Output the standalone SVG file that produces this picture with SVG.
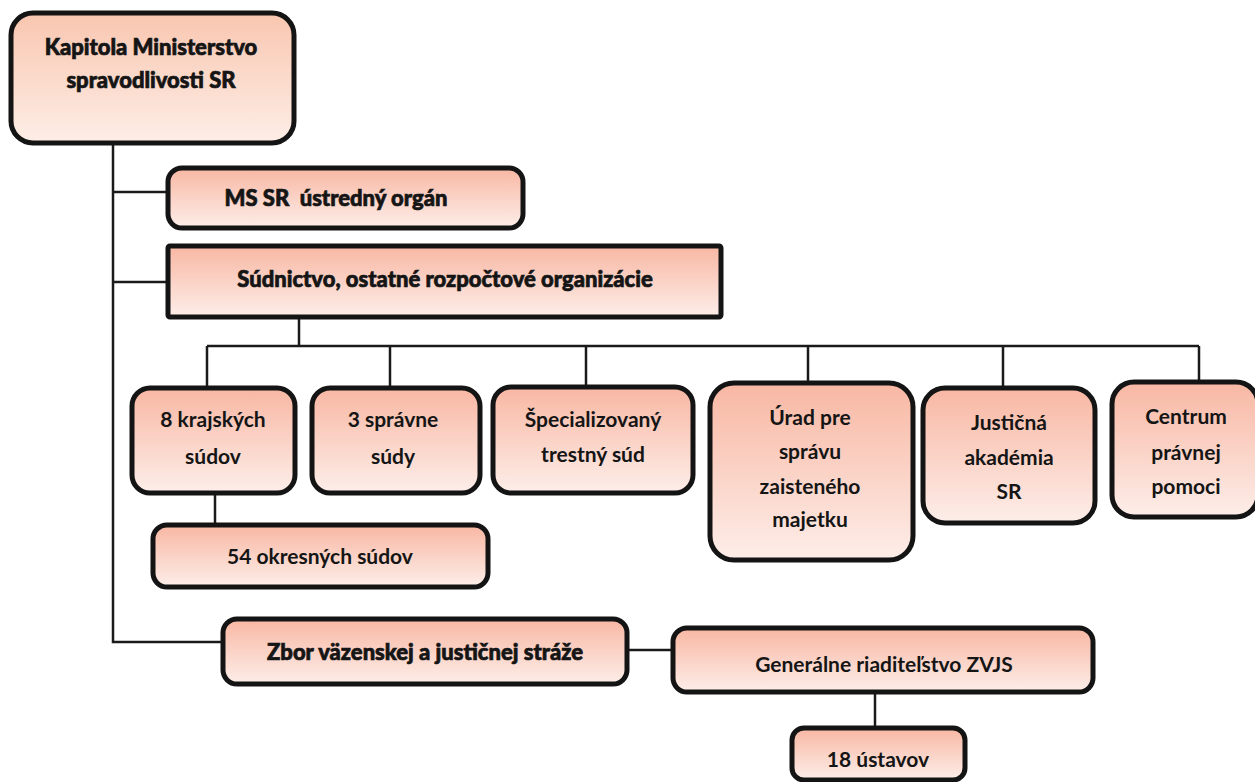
<svg xmlns="http://www.w3.org/2000/svg" width="1255" height="782" viewBox="0 0 1255 782">
<defs>
<linearGradient id="g" x1="0" y1="0" x2="0" y2="1">
<stop offset="0" stop-color="#f8b7a3"/>
<stop offset="1" stop-color="#fdeee9"/>
</linearGradient>
<linearGradient id="g2" x1="0" y1="0" x2="0" y2="1">
<stop offset="0" stop-color="#f9c6b0"/>
<stop offset="1" stop-color="#fdeee6"/>
</linearGradient>
<style>
.b{fill:url(#g);stroke:#141414;stroke-width:5}
.t{font-family:Lato,"Liberation Sans",sans-serif;font-size:21px;fill:#151515;text-anchor:middle;font-weight:700}
.h{font-weight:900;font-size:22px;stroke:#151515;stroke-width:0.7}
.c{fill:none;stroke:#1a1a1a;stroke-width:2.5}
</style>
</defs>
<rect width="1255" height="782" fill="#ffffff"/>
<g id="connectors">
<path class="c" d="M113 143 V642 H223"/>
<path class="c" d="M113 192 H168"/>
<path class="c" d="M113 282 H168"/>
<path class="c" d="M299 317 V346"/>
<path class="c" d="M207 346 H1199"/>
<path class="c" d="M207 346 V388"/>
<path class="c" d="M390 346 V388"/>
<path class="c" d="M586 346 V387"/>
<path class="c" d="M808 346 V383"/>
<path class="c" d="M1003 346 V388"/>
<path class="c" d="M1199 346 V382"/>
<path class="c" d="M215 493 V525"/>
<path class="c" d="M627 650 H673"/>
<path class="c" d="M875 692 V728"/>
</g>
<g id="kapitola">
<rect class="b" style="fill:url(#g2)" x="11" y="13" width="283" height="130" rx="22"/>
<text class="t h" x="151" y="55">Kapitola Ministerstvo</text>
<text class="t h" x="151" y="88">spravodlivosti SR</text>
</g>
<g id="mssr">
<rect class="b" x="168" y="168" width="355" height="60" rx="14"/>
<text class="t h" x="336" y="206" xml:space="preserve">MS SR  ústredný orgán</text>
</g>
<g id="sudnictvo">
<rect class="b" x="168" y="246" width="553" height="71" rx="2"/>
<text class="t h" x="445" y="287">Súdnictvo, ostatné rozpočtové organizácie</text>
</g>
<g id="krajske">
<rect class="b" x="132" y="388" width="163" height="105" rx="18"/>
<text class="t" x="213" y="427">8 krajských</text>
<text class="t" x="213" y="464">súdov</text>
</g>
<g id="spravne">
<rect class="b" x="312" y="388" width="168" height="105" rx="18"/>
<text class="t" x="393" y="427">3 správne</text>
<text class="t" x="393" y="464">súdy</text>
</g>
<g id="specializovany">
<rect class="b" x="493" y="387" width="200" height="106" rx="18"/>
<text class="t" x="593" y="427">Špecializovaný</text>
<text class="t" x="593" y="462">trestný súd</text>
</g>
<g id="urad">
<rect class="b" x="710" y="383" width="203" height="177" rx="24"/>
<text class="t" x="810" y="425">Úrad pre</text>
<text class="t" x="810" y="459">správu</text>
<text class="t" x="810" y="494">zaisteného</text>
<text class="t" x="810" y="527">majetku</text>
</g>
<g id="justicna">
<rect class="b" x="923" y="388" width="172" height="135" rx="22"/>
<text class="t" x="1009" y="430">Justičná</text>
<text class="t" x="1009" y="465">akadémia</text>
<text class="t" x="1009" y="499">SR</text>
</g>
<g id="centrum">
<rect class="b" x="1112" y="382" width="146" height="135" rx="22"/>
<text class="t" x="1186" y="424">Centrum</text>
<text class="t" x="1186" y="460">právnej</text>
<text class="t" x="1186" y="494">pomoci</text>
</g>
<g id="okresne">
<rect class="b" x="153" y="525" width="335" height="62" rx="14"/>
<text class="t" x="320" y="564">54 okresných súdov</text>
</g>
<g id="zbor">
<rect class="b" x="223" y="619" width="404" height="65" rx="14"/>
<text class="t h" x="425" y="660">Zbor väzenskej a justičnej stráže</text>
</g>
<g id="generalne">
<rect class="b" x="673" y="628" width="420" height="64" rx="14"/>
<text class="t" x="884" y="672">Generálne riaditeľstvo ZVJS</text>
</g>
<g id="ustavov">
<rect class="b" x="792" y="728" width="173" height="52" rx="12"/>
<text class="t" x="878" y="767">18 ústavov</text>
</g>
</svg>
